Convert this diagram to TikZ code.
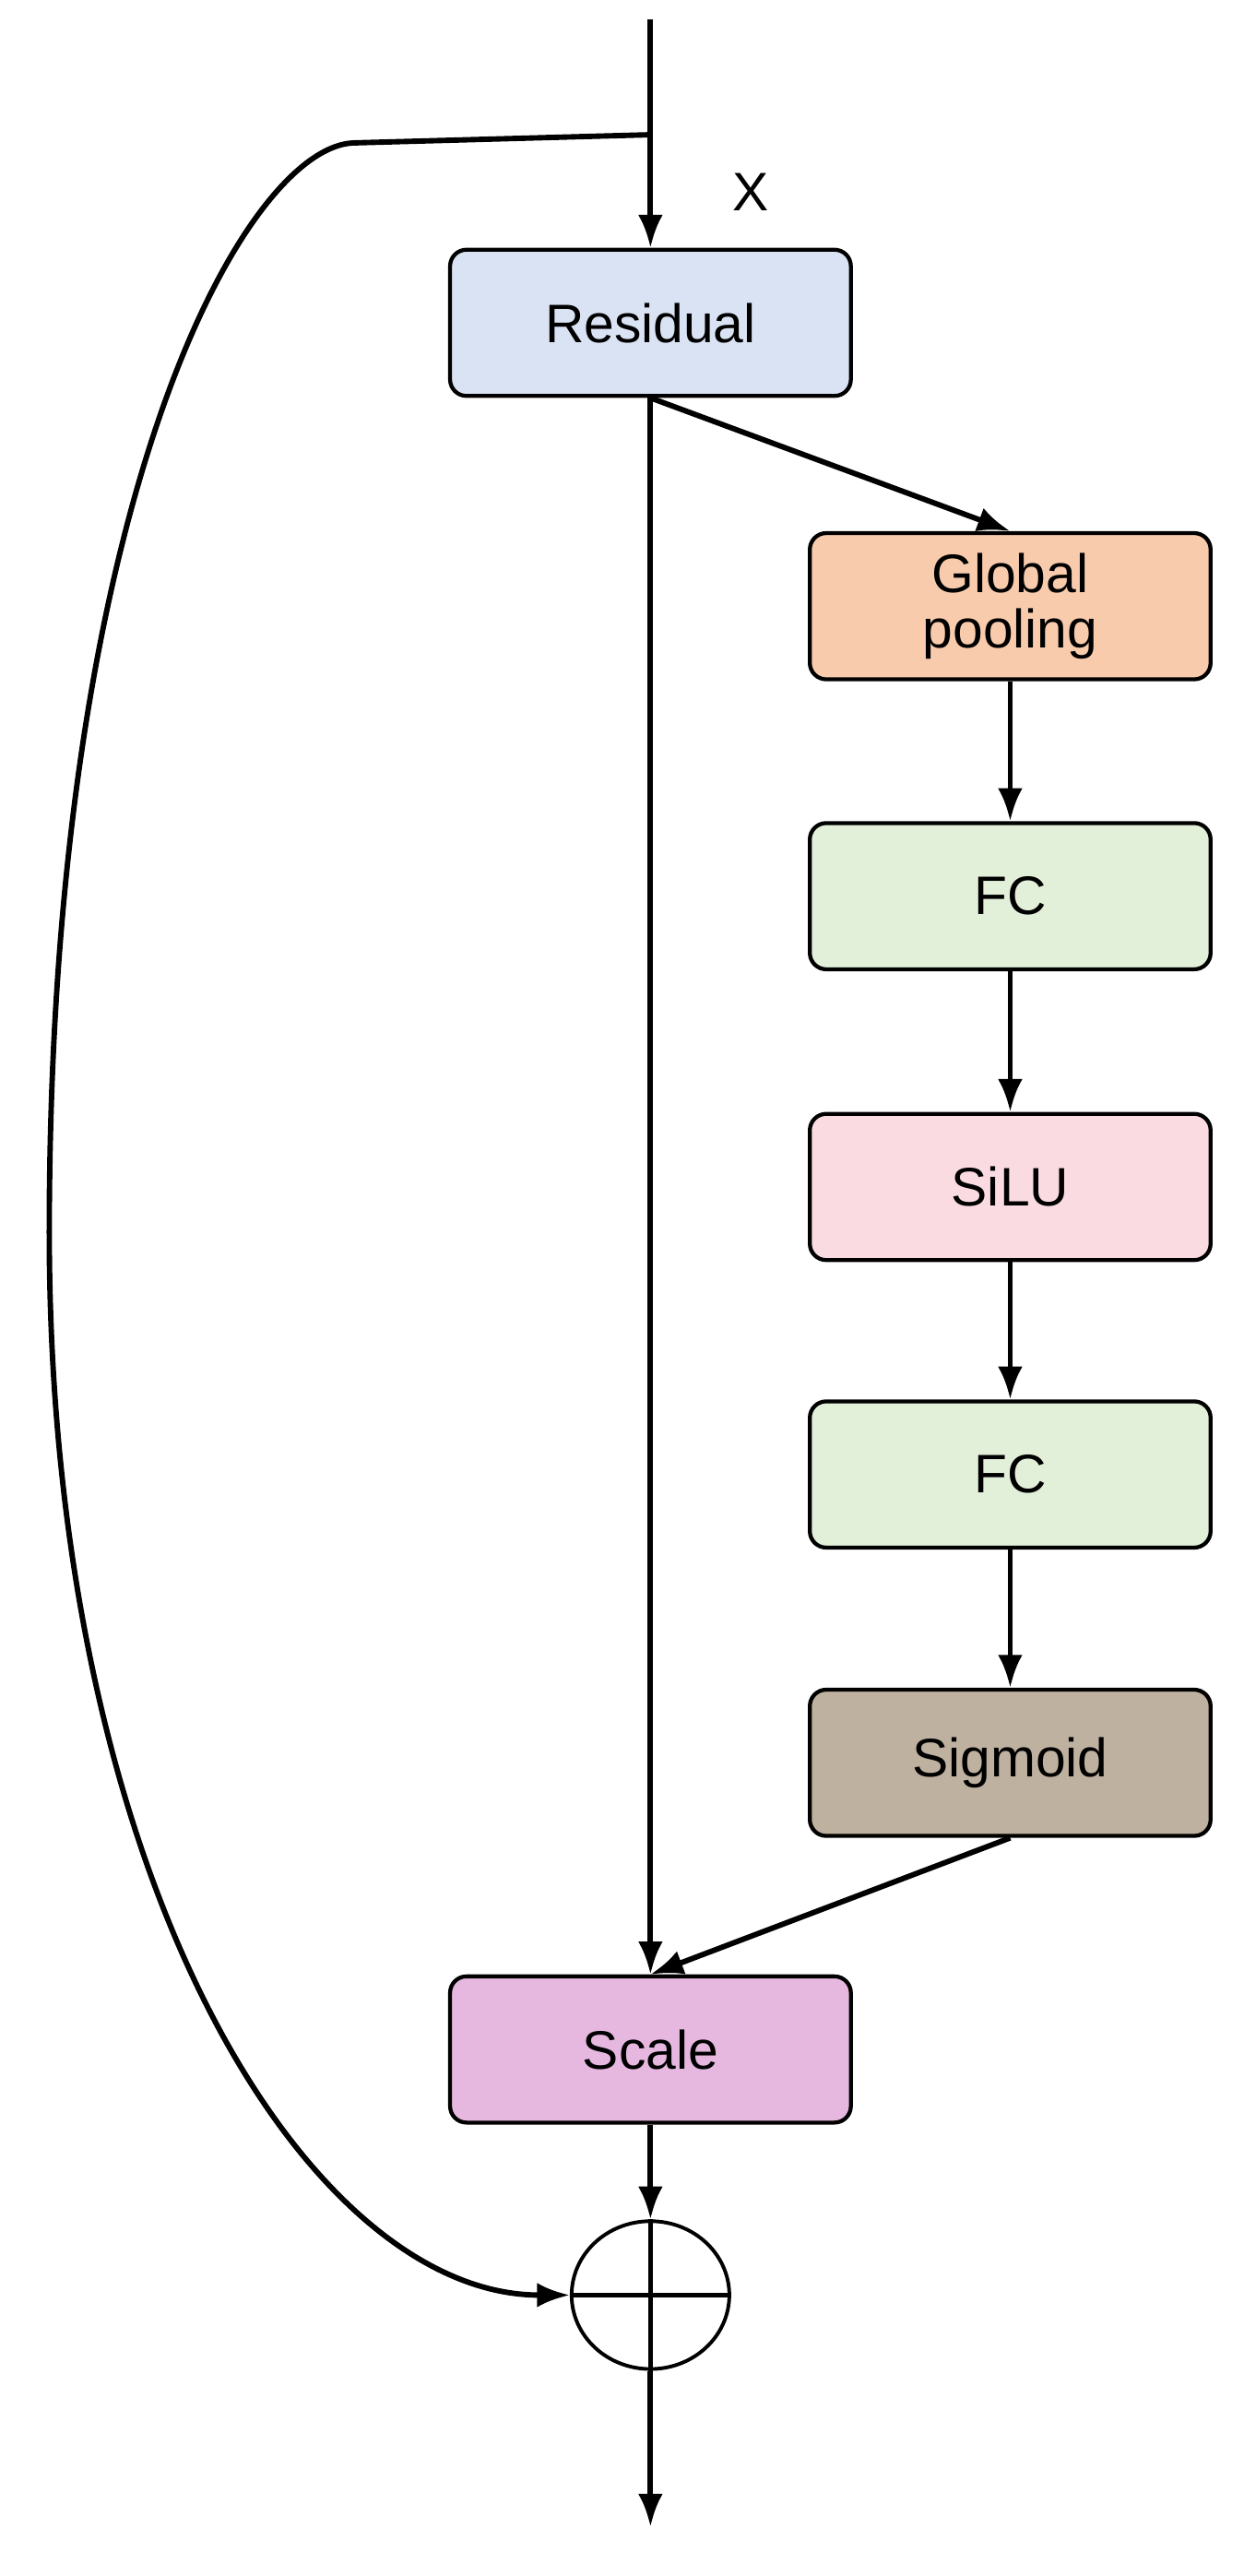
\documentclass[tikz,border=0pt]{standalone}
\usepackage{fontspec}
\setmainfont{Liberation Sans}
\usetikzlibrary{arrows.meta,shapes.geometric}
\begin{document}
\begin{tikzpicture}[x=1pt,y=-1pt,
  box/.style={draw,line width=2.4pt,rounded corners=10pt,minimum width=244pt,minimum height=89pt,align=center,font=\fontsize{33}{38}\selectfont},
  ar/.style={line width=3.3pt,-{Latex[length=20pt,width=15pt]}}]
\useasboundingbox (0,0) rectangle (757,1568);
\definecolor{cres}{HTML}{DAE3F3}
\definecolor{cgp}{HTML}{F8CBAD}
\definecolor{cfc}{HTML}{E2F0D9}
\definecolor{csilu}{HTML}{FADBE1}
\definecolor{csig}{HTML}{BFB1A0}
\definecolor{cscale}{HTML}{E6B8E0}
\node[box,fill=cres] (res) at (396,196.5) {Residual};
\node[box,fill=cgp] (gp) at (615,369) {Global\\[-4pt]pooling};
\node[box,fill=cfc] (fc1) at (615,545.5) {FC};
\node[box,fill=csilu] (silu) at (615,722.5) {SiLU};
\node[box,fill=cfc] (fc2) at (615,897.5) {FC};
\node[box,fill=csig] (sig) at (615,1073) {Sigmoid};
\node[box,fill=cscale] (scale) at (396,1247.5) {Scale};
\node[draw,ellipse,line width=2.2pt,minimum width=96pt,minimum height=90pt,inner sep=0pt] (sum) at (396,1397) {};
\draw[line width=2.8pt] (sum.north) -- (sum.south) (sum.west) -- (sum.east);
\coordinate (top) at (396,12);
\coordinate (br) at (396,82);
\coordinate (out) at (396,1538);
\node[font=\fontsize{33}{38}\selectfont] (x) at (457,117) {X};
\draw[ar] (top) -- (res.north);
\draw[ar] (res.south) -- (scale.north);
\draw[ar] (res.south) -- (gp.north);
\draw[ar] (gp) -- (fc1);
\draw[ar] (fc1) -- (silu);
\draw[ar] (silu) -- (fc2);
\draw[ar] (fc2) -- (sig);
\draw[ar] (sig.south) -- (scale.north);
\draw[ar] (scale) -- (sum.north);
\draw[ar] (sum.south) -- (out);
\draw[ar] (br) -- (215,87) .. controls (150,90) and (30,300) .. (30,750)
  .. controls (30,1150) and (190,1397) .. (sum.west);
\end{tikzpicture}
\end{document}
